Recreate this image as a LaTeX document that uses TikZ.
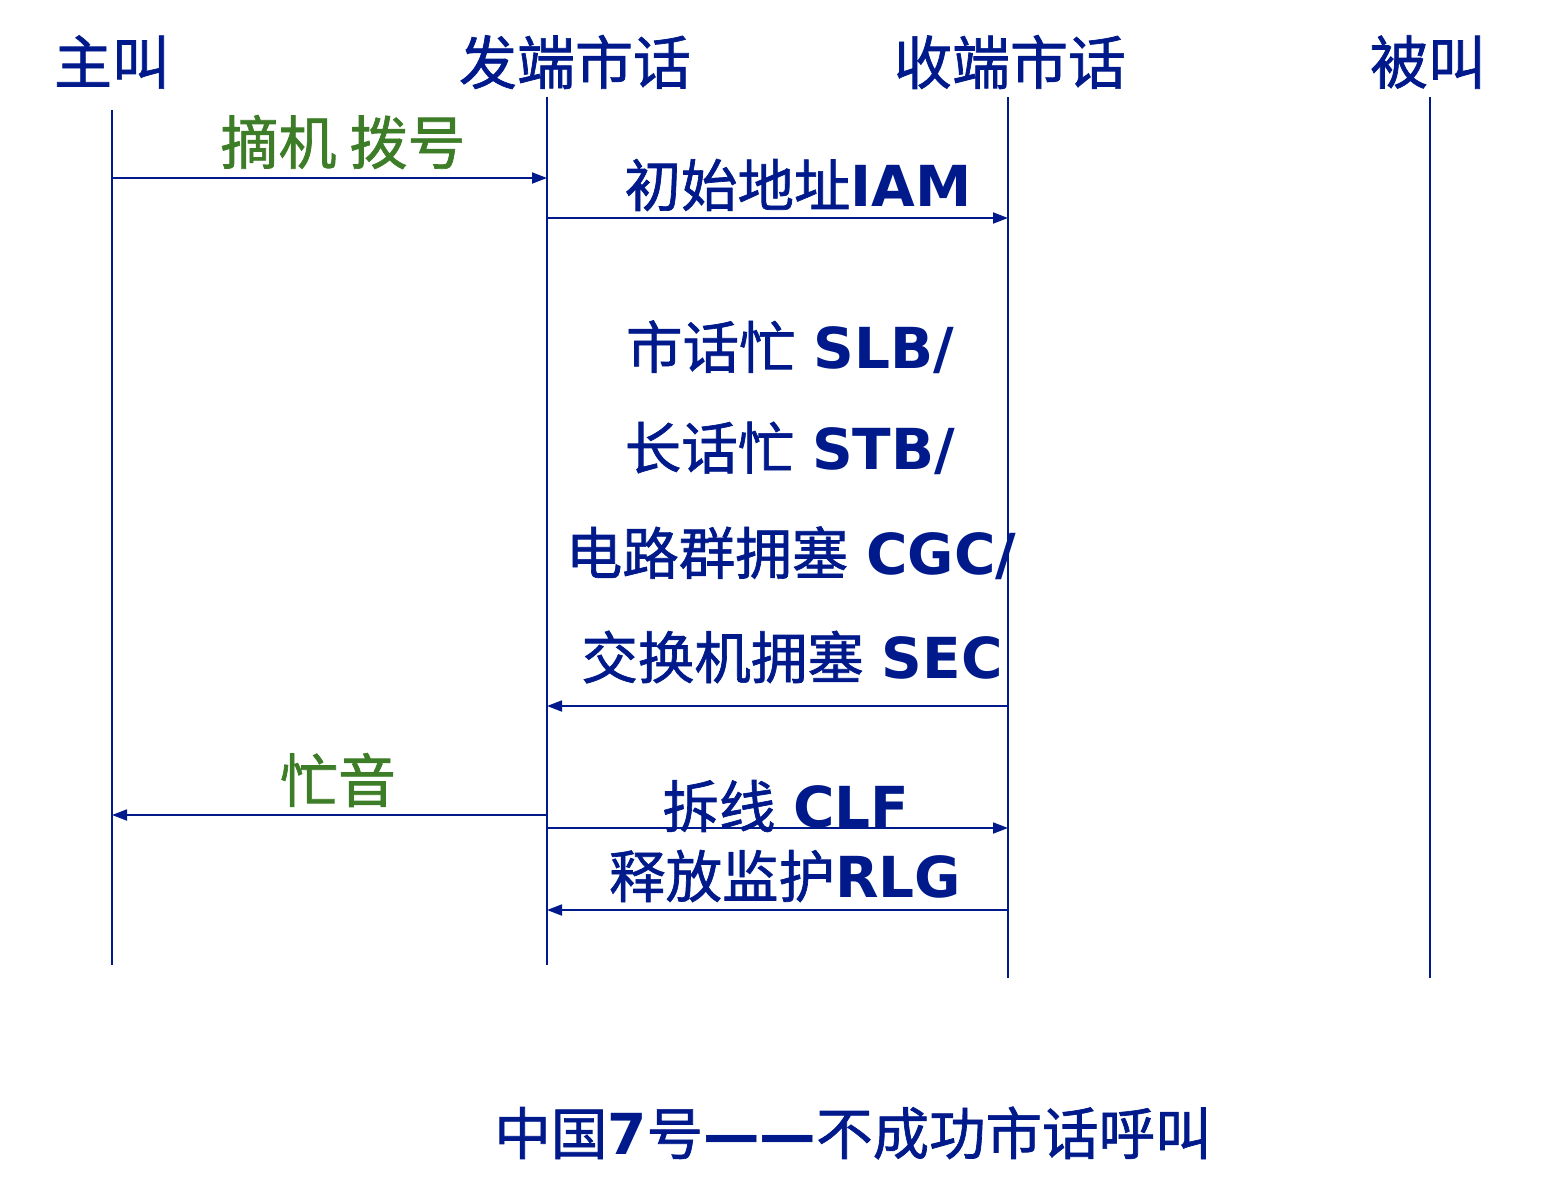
\documentclass[tikz,border=0pt]{standalone}
\usepackage{fontspec}
\setmainfont{DejaVu Sans}[BoldFont=DejaVu Sans Bold]
\newfontfamily\cjk{Noto Sans CJK SC}[FakeBold=1.2]
\usetikzlibrary{arrows.meta}
\definecolor{sigblue}{RGB}{0,26,140}
\definecolor{siggreen}{RGB}{62,125,40}
\begin{document}
\begin{tikzpicture}[x=1pt,y=-1pt,
  lifeline/.style={draw=sigblue,line width=1.5pt},
  msg/.style={draw=sigblue,line width=1.8pt,-{Triangle[length=15pt,width=11pt]}},
  head/.style={text=sigblue,font=\fontsize{58}{62}\selectfont\cjk,inner sep=0pt},
  lbl/.style={text=sigblue,font=\fontsize{56.5}{60}\selectfont,inner sep=0pt},
  glbl/.style={text=siggreen,font=\fontsize{58}{62}\selectfont\cjk,inner sep=0pt}]
\useasboundingbox (0,0) rectangle (1564,1200);
% headers
\node[head] (h1) at (112,62) {主叫};
\node[head] (h2) at (575,62) {发端市话};
\node[head] (h3) at (1010,62) {收端市话};
\node[head] (h4) at (1428,62) {被叫};
% lifelines
\coordinate (t1) at (112,110); \coordinate (e1) at (112,965);
\coordinate (t2) at (547,97);  \coordinate (e2) at (547,965);
\coordinate (t3) at (1008,97); \coordinate (e3) at (1008,978);
\coordinate (t4) at (1430,97); \coordinate (e4) at (1430,978);
\draw[lifeline] (t1) -- (e1);
\draw[lifeline] (t2) -- (e2);
\draw[lifeline] (t3) -- (e3);
\draw[lifeline] (t4) -- (e4);
% message points
\coordinate (a1) at (112,178); \coordinate (b1) at (547,178);
\coordinate (a2) at (547,218); \coordinate (b2) at (1008,218);
\coordinate (a3) at (1008,706); \coordinate (b3) at (547,706);
\coordinate (a4) at (547,815); \coordinate (b4) at (112,815);
\coordinate (a5) at (547,828); \coordinate (b5) at (1008,828);
\coordinate (a6) at (1008,910); \coordinate (b6) at (547,910);
\draw[msg] (a1) -- (b1);
\draw[msg] (a2) -- (b2);
\draw[msg] (a3) -- (b3);
\draw[msg] (a4) -- (b4);
\draw[msg] (a5) -- (b5);
\draw[msg] (a6) -- (b6);
% labels
\node[glbl] (l1) at (343,142) {摘机 拨号};
\node[lbl] (l2) at (798,185) {{\cjk 初始地址}\textbf{IAM}};
\node[lbl] (l3) at (790,347) {{\cjk 市话忙} \textbf{SLB/}};
\node[lbl] (l4) at (790,448) {{\cjk 长话忙} \textbf{STB/}};
\node[lbl] (l5) at (791,553) {{\cjk 电路群拥塞} \textbf{CGC/}};
\node[lbl] (l6) at (792,657) {{\cjk 交换机拥塞} \textbf{SEC}};
\node[glbl] (l7) at (338,780) {忙音};
\node[lbl] (l8) at (786,806) {{\cjk 拆线} \textbf{CLF}};
\node[lbl] (l9) at (785,876) {{\cjk 释放监护}\textbf{RLG}};
% caption
\node[lbl] (cap) at (853,1133) {{\cjk 中国}\textbf{7}{\cjk 号}\textbf{——}{\cjk 不成功市话呼叫}};
\end{tikzpicture}
\end{document}
